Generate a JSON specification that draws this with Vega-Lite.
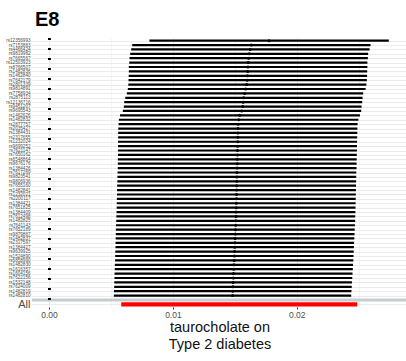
{
  "$schema": "https://vega.github.io/schema/vega-lite/v6.json",
  "autosize": {"type": "none"},
  "width": 375,
  "height": 269,
  "padding": {"left": 32, "top": 38, "right": 0, "bottom": 54},
  "background": "white",
  "title": {
    "text": "E8",
    "anchor": "start",
    "frame": "group",
    "dx": 3,
    "offset": 7,
    "fontSize": 20,
    "fontWeight": "bold",
    "font": "Liberation Sans",
    "color": "#000000"
  },
  "config": {"view": {"stroke": null}, "font": "Liberation Sans"},
  "data": {
    "values": [
      {"SNP": "rs12356993", "b": 0.017771, "lo": 0.008108, "hi": 0.027433},
      {"SNP": "rs7153883", "b": 0.016338, "lo": 0.006715, "hi": 0.02596},
      {"SNP": "rs4466424", "b": 0.016241, "lo": 0.006635, "hi": 0.025879},
      {"SNP": "rs9819982", "b": 0.01616, "lo": 0.006554, "hi": 0.025766},
      {"SNP": "rs7665567", "b": 0.01612, "lo": 0.006498, "hi": 0.025742},
      {"SNP": "rs12503923", "b": 0.01608, "lo": 0.006474, "hi": 0.025702},
      {"SNP": "rs8766507", "b": 0.016064, "lo": 0.006442, "hi": 0.025702},
      {"SNP": "rs1482836", "b": 0.01604, "lo": 0.006442, "hi": 0.025686},
      {"SNP": "rs1462840", "b": 0.016023, "lo": 0.006434, "hi": 0.025678},
      {"SNP": "rs7642179", "b": 0.015999, "lo": 0.006418, "hi": 0.025662},
      {"SNP": "rs2801339", "b": 0.015959, "lo": 0.006401, "hi": 0.025621},
      {"SNP": "rs9814891", "b": 0.015879, "lo": 0.006361, "hi": 0.025557},
      {"SNP": "rs7758934", "b": 0.015798, "lo": 0.006281, "hi": 0.025364},
      {"SNP": "rs2875113", "b": 0.015718, "lo": 0.006152, "hi": 0.025315},
      {"SNP": "rs12136716", "b": 0.015677, "lo": 0.006071, "hi": 0.025283},
      {"SNP": "rs9451207", "b": 0.015637, "lo": 0.006039, "hi": 0.025235},
      {"SNP": "rs9695543", "b": 0.015556, "lo": 0.005958, "hi": 0.025203},
      {"SNP": "rs1462626", "b": 0.015396, "lo": 0.005733, "hi": 0.025098},
      {"SNP": "rs1482832", "b": 0.015315, "lo": 0.005636, "hi": 0.024977},
      {"SNP": "rs2877757", "b": 0.015275, "lo": 0.005612, "hi": 0.024913},
      {"SNP": "rs2035427", "b": 0.015259, "lo": 0.005588, "hi": 0.024897},
      {"SNP": "rs1384431", "b": 0.015251, "lo": 0.00558, "hi": 0.024889},
      {"SNP": "rs2317655", "b": 0.015243, "lo": 0.00558, "hi": 0.024881},
      {"SNP": "rs1232024", "b": 0.015235, "lo": 0.005572, "hi": 0.024873},
      {"SNP": "rs9699252", "b": 0.015227, "lo": 0.005572, "hi": 0.024865},
      {"SNP": "rs7621147", "b": 0.015218, "lo": 0.005564, "hi": 0.024857},
      {"SNP": "rs7650162", "b": 0.01521, "lo": 0.005564, "hi": 0.024849},
      {"SNP": "rs6548864", "b": 0.015202, "lo": 0.005556, "hi": 0.024841},
      {"SNP": "rs9676176", "b": 0.015194, "lo": 0.005556, "hi": 0.024833},
      {"SNP": "rs1384426", "b": 0.015186, "lo": 0.005548, "hi": 0.024824},
      {"SNP": "rs7617269", "b": 0.015178, "lo": 0.005532, "hi": 0.024808},
      {"SNP": "rs9823541", "b": 0.01517, "lo": 0.005524, "hi": 0.0248},
      {"SNP": "rs9806936", "b": 0.015162, "lo": 0.005516, "hi": 0.024792},
      {"SNP": "rs7655160", "b": 0.015154, "lo": 0.0055, "hi": 0.024784},
      {"SNP": "rs1482841", "b": 0.015146, "lo": 0.005491, "hi": 0.024776},
      {"SNP": "rs1232021", "b": 0.015138, "lo": 0.005483, "hi": 0.024768},
      {"SNP": "rs2200117", "b": 0.01513, "lo": 0.005475, "hi": 0.02476},
      {"SNP": "rs1384421", "b": 0.015122, "lo": 0.005467, "hi": 0.024752},
      {"SNP": "rs7651825", "b": 0.015114, "lo": 0.005459, "hi": 0.024744},
      {"SNP": "rs1384409", "b": 0.015106, "lo": 0.005451, "hi": 0.024736},
      {"SNP": "rs7612498", "b": 0.015098, "lo": 0.005435, "hi": 0.02472},
      {"SNP": "rs1482825", "b": 0.015081, "lo": 0.005427, "hi": 0.024712},
      {"SNP": "rs7641143", "b": 0.015073, "lo": 0.005411, "hi": 0.024696},
      {"SNP": "rs7652189", "b": 0.015057, "lo": 0.005395, "hi": 0.024679},
      {"SNP": "rs9879867", "b": 0.015041, "lo": 0.005387, "hi": 0.024663},
      {"SNP": "rs1482837", "b": 0.015025, "lo": 0.005379, "hi": 0.024647},
      {"SNP": "rs2317597", "b": 0.015009, "lo": 0.005371, "hi": 0.024631},
      {"SNP": "rs1384427", "b": 0.014993, "lo": 0.005363, "hi": 0.024615},
      {"SNP": "rs9639925", "b": 0.014977, "lo": 0.005355, "hi": 0.024599},
      {"SNP": "rs1524890", "b": 0.014961, "lo": 0.005338, "hi": 0.024583},
      {"SNP": "rs6858990", "b": 0.014945, "lo": 0.00533, "hi": 0.024567},
      {"SNP": "rs1482830", "b": 0.014929, "lo": 0.005314, "hi": 0.024543},
      {"SNP": "rs1616357", "b": 0.014912, "lo": 0.005306, "hi": 0.024526},
      {"SNP": "rs1604156", "b": 0.014896, "lo": 0.00529, "hi": 0.024502},
      {"SNP": "rs7622156", "b": 0.01488, "lo": 0.005282, "hi": 0.024478},
      {"SNP": "rs1532148", "b": 0.014864, "lo": 0.005266, "hi": 0.024454},
      {"SNP": "rs7624009", "b": 0.014848, "lo": 0.005258, "hi": 0.024438},
      {"SNP": "rs1482819", "b": 0.014832, "lo": 0.005242, "hi": 0.024414},
      {"SNP": "rs1482810", "b": 0.014816, "lo": 0.005234, "hi": 0.024398},
      {"SNP": "", "b": null, "lo": null, "hi": null},
      {"SNP": "All", "b": 0.015355, "lo": 0.00583, "hi": 0.024881}
    ]
  },
  "layer": [
    {
      "mark": {"type": "rule", "color": "#c6cdd1", "strokeWidth": 3},
      "encoding": {
        "y": {
          "field": "SNP",
          "type": "nominal",
          "sort": null,
          "scale": {"type": "point", "padding": 0.6},
          "axis": {
            "title": null,
            "grid": true,
            "gridColor": "#ebebeb",
            "gridWidth": 1.1,
            "domain": false,
            "ticks": false,
            "labelOverlap": false,
            "labelPadding": 2,
            "labelColor": "#4d4d4d",
            "labelFont": "Liberation Sans",
            "labelFontSize": {"condition": {"test": "datum.value === 'All'", "value": 11}, "value": 4.6}
          }
        },
        "strokeOpacity": {"condition": {"test": "datum.SNP === ''", "value": 1}, "value": 0}
      }
    },
    {
      "mark": {"type": "rule", "color": "#000000", "strokeWidth": 2, "strokeDash": [2, 8]},
      "encoding": {"x": {"datum": 0}}
    },
    {
      "mark": {"type": "rule"},
      "encoding": {
        "y": {"field": "SNP", "type": "nominal", "sort": null},
        "x": {
          "field": "lo",
          "type": "quantitative",
          "scale": {"domain": [-0.001375, 0.0289], "nice": false, "zero": false},
          "axis": {
            "title": ["taurocholate on", "Type 2 diabetes"],
            "titleFontSize": 14.5,
            "titleFontWeight": "normal",
            "titleColor": "#111111",
            "titleLineHeight": 17,
            "titlePadding": 2,
            "titleFont": "Liberation Sans",
            "values": [0, 0.005, 0.01, 0.015, 0.02, 0.025],
            "labelExpr": "round(datum.value * 200) % 2 === 0 ? format(datum.value, '.2f') : ''",
            "labelFontSize": 8.5,
            "labelColor": "#4d4d4d",
            "labelFont": "Liberation Sans",
            "labelPadding": 1,
            "domain": false,
            "tickSize": 2,
            "tickColor": "#333333",
            "tickOpacity": {"condition": {"test": "round(datum.value * 200) % 2 === 0", "value": 1}, "value": 0},
            "grid": true,
            "gridColor": {"condition": {"test": "round(datum.value * 200) % 2 === 0", "value": "#ebebeb"}, "value": "#f4f4f4"},
            "gridWidth": 1.1
          }
        },
        "x2": {"field": "hi"},
        "color": {"condition": {"test": "datum.SNP === 'All'", "value": "#ff0000"}, "value": "#000000"},
        "strokeWidth": {"condition": {"test": "datum.SNP === 'All'", "value": 4.2}, "value": 2.2}
      }
    },
    {
      "mark": {"type": "point", "filled": true, "size": 9, "opacity": 1},
      "encoding": {
        "y": {"field": "SNP", "type": "nominal", "sort": null},
        "x": {"field": "b", "type": "quantitative"},
        "color": {"condition": {"test": "datum.SNP === 'All'", "value": "#ff0000"}, "value": "#000000"}
      }
    }
  ]
}
